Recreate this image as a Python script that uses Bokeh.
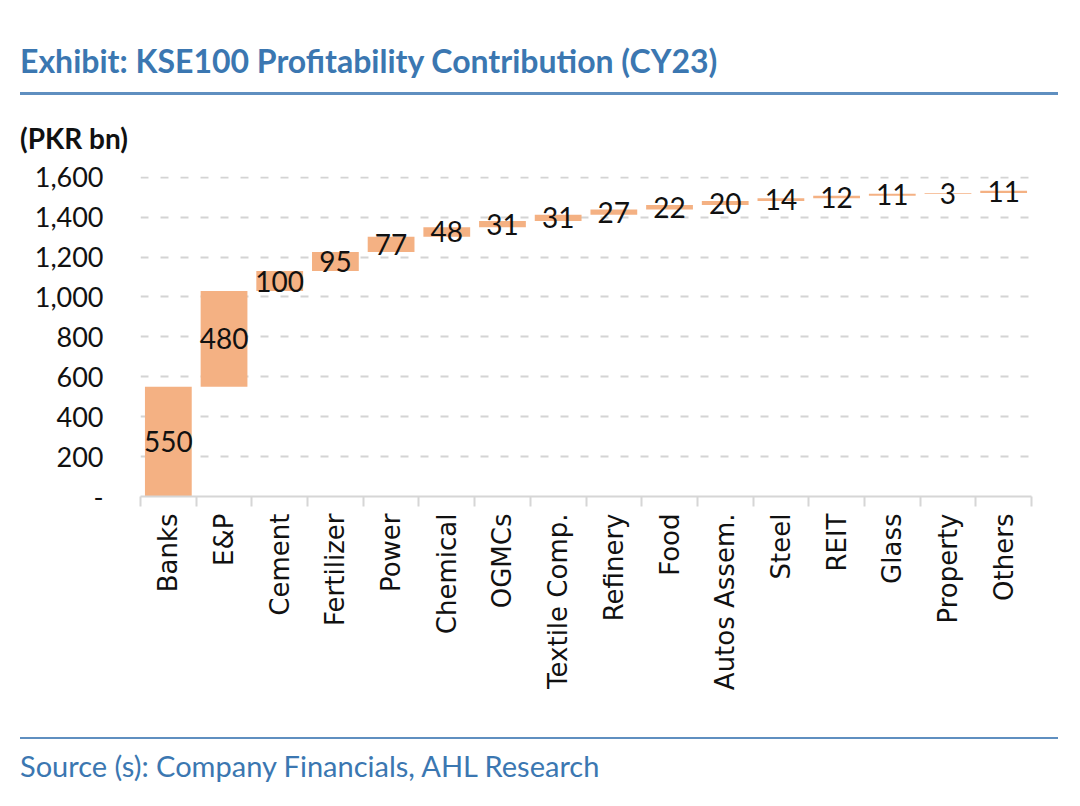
import math
from bokeh.plotting import figure
from bokeh.layouts import column
from bokeh.models import (Range1d, FixedTicker, LinearAxis, NumeralTickFormatter,
                          ColumnDataSource, Div)
from bokeh.core.properties import value
from bokeh.embed import file_html
from bokeh.resources import INLINE

categories = ["Banks", "E&P", "Cement", "Fertilizer", "Power", "Chemical", "OGMCs",
              "Textile Comp.", "Refinery", "Food", "Autos Assem.", "Steel", "REIT",
              "Glass", "Property", "Others"]
contrib = [550, 480, 100, 95, 77, 48, 31, 31, 27, 22, 20, 14, 12, 11, 3, 11]
y_ticks = [0, 200, 400, 600, 800, 1000, 1200, 1400, 1600]

title_text = "Exhibit: KSE100 Profitability Contribution (CY23)"
unit_text = "(PKR bn)"
source_text = "Source (s): Company Financials, AHL Research"

# waterfall geometry from the data
bottoms, tops = [], []
run = 0
for v in contrib:
    bottoms.append(run)
    run += v
    tops.append(run)
n = len(categories)
xs = [i + 0.5 for i in range(n)]
bounds = list(range(n + 1))
mids = [(b + t) / 2 for b, t in zip(bottoms, tops)]

src = ColumnDataSource(dict(x=xs, bottom=bottoms, top=tops, mid=mids,
                            label=[str(v) for v in contrib]))

BLUE_TXT = "#3b77b1"
BLUE_LINE = "#5f8fc0"
BAR = "#F4B183"
GRID = "#d4d4d4"
W = 1072

# ---- title block (page y 0..100)
title_div = Div(
    text=(f'<div style="margin-left:20px;padding-top:41px;font-family:Lato;font-weight:bold;'
          f'font-size:32px;line-height:40px;color:{BLUE_TXT};white-space:nowrap">{title_text}</div>'
          f'<div style="margin-left:20px;margin-top:11px;width:1038px;height:3px;'
          f'background:{BLUE_LINE}"></div>'),
    width=W, height=100, margin=(0, 0, 0, 0))

# ---- unit label (page y 100..156)
unit_div = Div(
    text=(f'<div style="margin-left:20px;padding-top:21px;font-family:Lato;font-weight:bold;'
          f'font-size:28px;line-height:34px;color:#111111;white-space:nowrap">{unit_text}</div>'),
    width=W, height=56, margin=(0, 0, 0, 0))

# ---- chart (page y 156..720), frame page y 176..496, x 140..1031
p = figure(width=W, height=564, x_range=Range1d(0, n),
           y_range=Range1d(0, 1604), output_backend="svg", toolbar_location=None,
           title=None, x_axis_location=None, y_axis_location="left",
           min_border_left=140, min_border_right=W - 1031, min_border_top=20,
           min_border_bottom=224, margin=(0, 0, 0, 0))
p.outline_line_color = None
p.background_fill_color = "white"
p.border_fill_color = "white"

p.xgrid.visible = False
p.ygrid.grid_line_color = GRID
p.ygrid.grid_line_width = 2
p.ygrid.grid_line_dash = "8 12"

p.vbar(x="x", width=0.84, bottom="bottom", top="top", source=src,
       fill_color=BAR, line_color=None)
p.text(x="x", y="mid", text="label", source=src, text_font=value("Lato"),
       text_font_size="28px", text_align="center", text_baseline="middle",
       text_color="#111111")

# y axis
ya = p.yaxis[0]
ya.ticker = FixedTicker(ticks=y_ticks)
ya.formatter = NumeralTickFormatter(format="0,0")
ya.major_label_overrides = {0: "-"}
ya.axis_line_color = None
ya.major_tick_line_color = None
ya.major_tick_out = 0
ya.major_tick_in = 0
ya.minor_tick_line_color = None
ya.major_label_standoff = 37
ya.major_label_text_font = "Lato"
ya.major_label_text_font_size = "27px"
ya.major_label_text_color = "#111111"

# x axis: names at category centers, tick marks (minor) at boundaries
xa = LinearAxis(ticker=FixedTicker(ticks=xs, minor_ticks=bounds),
                major_label_overrides={x: c for x, c in zip(xs, categories)},
                major_label_orientation=math.pi / 2,
                major_tick_line_color=None, major_tick_out=0, major_tick_in=0,
                minor_tick_line_color="#d6d6d6", minor_tick_line_width=2,
                minor_tick_out=10, minor_tick_in=0,
                axis_line_color="#d6d6d6", axis_line_width=2,
                major_label_standoff=7,
                major_label_text_font="DejaVu Sans",
                major_label_text_font_size="26px",
                major_label_text_color="#111111")
p.add_layout(xa, "below")

# ---- source block (page y 720..800)
source_div = Div(
    text=(f'<div style="margin-left:20px;margin-top:17px;width:1038px;height:2px;'
          f'background:{BLUE_LINE}"></div>'
          f'<div style="margin-left:20px;margin-top:9px;font-family:Lato;'
          f'font-size:29px;line-height:35px;color:{BLUE_TXT};white-space:nowrap">{source_text}</div>'),
    width=W, height=80, margin=(0, 0, 0, 0))

layout = column(title_div, unit_div, p, source_div, spacing=0)

open("out.html", "w").write(file_html(layout, INLINE))
